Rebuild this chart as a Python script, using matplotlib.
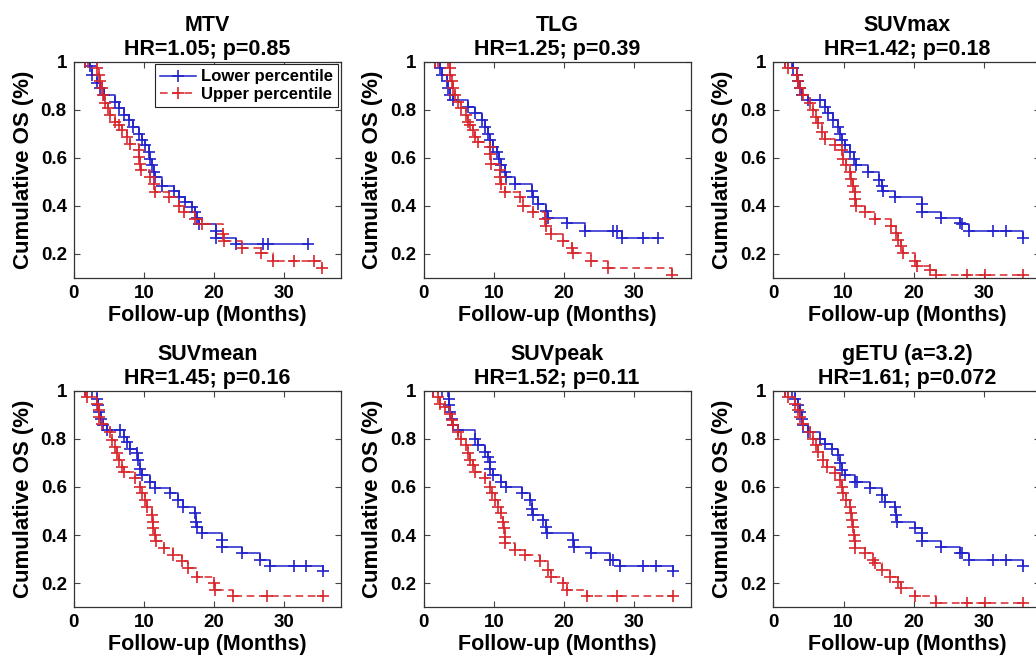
import matplotlib
matplotlib.use('Agg')
import matplotlib.pyplot as plt
from matplotlib.lines import Line2D

plt.rcParams['font.family'] = ['Liberation Sans', 'DejaVu Sans']
plt.rcParams['font.weight'] = 'bold'

# ---- data (months, cumulative OS) ----
titles = ['MTV', 'TLG', 'SUVmax', 'SUVmean', 'SUVpeak', 'gETU (a=3.2)']
hr_values = ['1.05', '1.25', '1.42', '1.45', '1.52', '1.61']
p_values = ['0.85', '0.39', '0.18', '0.16', '0.11', '0.072']
series_names = ['Lower percentile', 'Upper percentile']

mtv_low_t = [1.6, 2.3, 2.6, 3.3, 3.7, 4.25, 5.9, 6.4, 7.1, 7.8, 8.5, 9.25, 9.7, 10.2, 10.7, 10.9, 11.15,
             11.4, 11.6, 12.6, 14.25, 15.0, 15.9, 16.9, 17.3, 17.6, 17.8, 20.2, 20.3, 23.1, 26.9, 27.6, 33.3]
mtv_low_s = [1.0, 0.982, 0.947, 0.912, 0.89, 0.863, 0.835, 0.807, 0.779, 0.758, 0.73, 0.70, 0.674, 0.653,
             0.625, 0.597, 0.569, 0.541, 0.52, 0.485, 0.464, 0.436, 0.415, 0.394, 0.373, 0.352, 0.324,
             0.296, 0.268, 0.242, 0.242, 0.242, 0.242]
mtv_up_t = [1.6, 2.1, 3.3, 3.53, 3.77, 4.0, 4.1, 4.5, 4.95, 5.2, 5.9, 6.4, 6.85, 7.6, 8.05, 9.25, 9.3, 9.5,
            9.55, 10.9, 11.4, 11.6, 13.5, 15.0, 15.7, 17.3, 18.3, 21.2, 21.4, 24.0, 26.6, 28.3, 31.4, 34.2, 35.4]
mtv_up_s = [1.0, 1.0, 0.975, 0.947, 0.92, 0.89, 0.863, 0.828, 0.807, 0.779, 0.75, 0.737, 0.716, 0.688, 0.66,
            0.632, 0.604, 0.576, 0.548, 0.52, 0.49, 0.457, 0.436, 0.40, 0.373, 0.345, 0.324, 0.282, 0.254,
            0.225, 0.204, 0.17, 0.17, 0.17, 0.141]

tlg_low_t = [1.64, 2.35, 2.58, 3.3, 3.53, 3.77, 4.24, 6.37, 7.32, 8.27, 8.74, 9.2, 9.45, 9.93, 10.4, 10.8,
             11.1, 11.6, 11.8, 13.0, 15.4, 15.6, 16.3, 17.5, 17.75, 20.4, 23.0, 27.0, 27.5, 28.2, 31.2, 33.4]
tlg_low_s = [1.0, 0.975, 0.947, 0.92, 0.89, 0.863, 0.842, 0.814, 0.786, 0.758, 0.73, 0.70, 0.674, 0.646,
             0.625, 0.597, 0.569, 0.541, 0.52, 0.49, 0.464, 0.436, 0.408, 0.38, 0.352, 0.33, 0.296, 0.296,
             0.296, 0.268, 0.268, 0.268]
tlg_up_t = [1.64, 2.1, 3.5, 3.77, 3.8, 4.0, 4.24, 4.5, 4.95, 5.4, 6.1, 6.4, 6.6, 7.1, 7.3, 7.8, 9.45, 9.5,
            9.55, 10.9, 10.95, 11.1, 11.6, 13.7, 14.2, 15.6, 17.3, 17.5, 18.2, 19.9, 21.1, 21.3, 23.9, 26.3, 35.3]
tlg_up_s = [1.0, 1.0, 1.0, 0.975, 0.947, 0.92, 0.89, 0.863, 0.835, 0.807, 0.78, 0.75, 0.737, 0.716, 0.688,
            0.667, 0.646, 0.618, 0.576, 0.548, 0.52, 0.49, 0.457, 0.436, 0.40, 0.373, 0.345, 0.317, 0.282,
            0.254, 0.225, 0.204, 0.17, 0.141, 0.113]

suvmax_low_t = [1.64, 2.6, 2.8, 3.3, 3.5, 3.77, 4.0, 4.95, 6.6, 7.3, 7.8, 8.5, 9.2, 9.45, 9.7, 10.2, 10.9,
                11.4, 11.8, 13.5, 15.1, 15.4, 15.6, 17.3, 21.1, 21.15, 23.9, 26.5, 26.8, 27.9, 31.3, 33.1, 35.5]
suvmax_low_s = [1.0, 1.0, 0.975, 0.947, 0.92, 0.89, 0.863, 0.842, 0.842, 0.814, 0.786, 0.758, 0.73, 0.70,
                0.674, 0.653, 0.625, 0.597, 0.569, 0.541, 0.51, 0.485, 0.464, 0.436, 0.408, 0.373, 0.352,
                0.33, 0.324, 0.296, 0.296, 0.296, 0.268]
suvmax_up_t = [1.64, 2.1, 3.3, 3.5, 3.77, 4.24, 5.2, 5.66, 6.1, 6.4, 6.85, 7.3, 8.7, 9.7, 9.9, 10.4, 10.9,
               11.1, 11.35, 11.6, 11.65, 11.8, 13.0, 14.4, 16.8, 17.5, 17.75, 18.2, 18.5, 20.1, 20.4, 22.3,
               23.2, 27.5, 30.1, 35.5]
suvmax_up_s = [1.0, 0.975, 0.947, 0.92, 0.89, 0.863, 0.828, 0.80, 0.772, 0.744, 0.709, 0.68, 0.653, 0.632,
               0.597, 0.569, 0.541, 0.513, 0.485, 0.457, 0.43, 0.40, 0.373, 0.345, 0.317, 0.288, 0.26,
               0.232, 0.204, 0.17, 0.148, 0.134, 0.113, 0.113, 0.113, 0.113]

suvmean_low_t = [1.64, 2.6, 3.3, 3.4, 3.67, 3.86, 4.24, 4.7, 6.6, 7.1, 7.56, 8.0, 9.0, 9.2, 9.45, 9.7, 10.9,
                 11.6, 13.7, 14.9, 15.6, 17.3, 17.35, 17.5, 18.2, 21.1, 21.15, 23.9, 26.5, 27.9, 31.3, 33.1, 35.5]
suvmean_low_s = [1.0, 1.0, 0.968, 0.94, 0.913, 0.885, 0.857, 0.837, 0.837, 0.809, 0.788, 0.76, 0.74, 0.712,
                 0.677, 0.65, 0.622, 0.594, 0.573, 0.546, 0.518, 0.49, 0.456, 0.435, 0.407, 0.38, 0.352,
                 0.324, 0.296, 0.269, 0.269, 0.269, 0.248]
suvmean_up_t = [1.64, 1.87, 3.3, 3.53, 3.67, 4.0, 5.2, 5.4, 5.9, 6.1, 6.4, 6.85, 7.1, 8.7, 9.45, 9.7, 10.2,
                10.5, 11.1, 11.3, 11.35, 11.6, 11.65, 12.8, 14.2, 15.4, 16.3, 17.5, 19.9, 20.1, 22.7, 27.5, 35.5]
suvmean_up_s = [1.0, 0.975, 0.947, 0.92, 0.89, 0.864, 0.83, 0.795, 0.767, 0.74, 0.712, 0.684, 0.663, 0.636,
                0.60, 0.573, 0.546, 0.518, 0.483, 0.456, 0.428, 0.40, 0.373, 0.345, 0.317, 0.29, 0.262,
                0.227, 0.20, 0.172, 0.144, 0.144, 0.144]

suvpeak_low_t = [1.4, 2.6, 3.53, 3.6, 3.67, 3.77, 4.0, 4.24, 4.95, 7.3, 7.8, 8.74, 9.2, 9.45, 9.5, 9.93, 11.1,
                 11.8, 13.96, 15.1, 15.4, 15.6, 17.0, 17.5, 17.55, 21.3, 21.35, 23.9, 26.5, 27.0, 27.9, 31.3,
                 33.1, 35.5]
suvpeak_low_s = [1.0, 1.0, 1.0, 0.968, 0.94, 0.913, 0.885, 0.857, 0.837, 0.80, 0.774, 0.747, 0.726, 0.705,
                 0.677, 0.65, 0.622, 0.60, 0.573, 0.546, 0.51, 0.483, 0.463, 0.435, 0.407, 0.38, 0.352,
                 0.324, 0.296, 0.296, 0.269, 0.269, 0.269, 0.248]
suvpeak_up_t = [1.4, 2.1, 2.35, 3.06, 3.77, 4.0, 4.24, 4.95, 5.4, 6.1, 6.37, 6.6, 7.1, 7.3, 8.74, 9.45, 9.7,
                10.2, 10.6, 11.1, 11.35, 11.4, 11.6, 11.65, 13.0, 14.4, 16.6, 17.75, 18.2, 19.9, 20.4, 23.2,
                27.5, 35.5]
suvpeak_up_s = [1.0, 0.975, 0.947, 0.933, 0.906, 0.878, 0.857, 0.83, 0.80, 0.774, 0.74, 0.712, 0.69, 0.663,
                0.636, 0.60, 0.573, 0.546, 0.518, 0.49, 0.456, 0.428, 0.393, 0.366, 0.338, 0.317, 0.29,
                0.255, 0.227, 0.20, 0.172, 0.144, 0.144, 0.144]

getu_low_t = [1.64, 2.58, 3.06, 3.53, 3.77, 4.0, 4.24, 4.95, 6.6, 7.3, 8.27, 9.2, 9.45, 9.7, 10.2, 11.6, 11.9,
              13.7, 15.4, 15.9, 17.3, 17.5, 17.55, 20.1, 21.1, 21.15, 23.9, 26.5, 26.8, 27.9, 31.3, 33.1, 35.5]
getu_low_s = [1.0, 1.0, 0.968, 0.94, 0.913, 0.885, 0.857, 0.83, 0.80, 0.78, 0.76, 0.732, 0.698, 0.67, 0.65,
              0.622, 0.622, 0.594, 0.567, 0.539, 0.518, 0.483, 0.456, 0.428, 0.407, 0.373, 0.352, 0.324,
              0.324, 0.296, 0.296, 0.296, 0.269]
getu_up_t = [1.64, 2.1, 3.06, 3.53, 3.77, 4.24, 5.2, 5.66, 6.1, 6.37, 7.1, 7.56, 8.74, 9.45, 9.7, 9.93, 10.4,
             10.9, 11.1, 11.15, 11.35, 11.4, 11.6, 11.65, 13.0, 14.2, 14.4, 15.4, 16.6, 17.75, 18.2, 20.1,
             23.2, 27.5, 30.1, 35.5]
getu_up_s = [1.0, 0.975, 0.947, 0.92, 0.89, 0.864, 0.83, 0.80, 0.774, 0.747, 0.712, 0.684, 0.657, 0.63, 0.60,
             0.573, 0.546, 0.518, 0.49, 0.463, 0.435, 0.40, 0.373, 0.345, 0.324, 0.296, 0.283, 0.255, 0.227,
             0.206, 0.179, 0.144, 0.116, 0.116, 0.116, 0.116]

curves = [
    ((mtv_low_t, mtv_low_s), (mtv_up_t, mtv_up_s)),
    ((tlg_low_t, tlg_low_s), (tlg_up_t, tlg_up_s)),
    ((suvmax_low_t, suvmax_low_s), (suvmax_up_t, suvmax_up_s)),
    ((suvmean_low_t, suvmean_low_s), (suvmean_up_t, suvmean_up_s)),
    ((suvpeak_low_t, suvpeak_low_s), (suvpeak_up_t, suvpeak_up_s)),
    ((getu_low_t, getu_low_s), (getu_up_t, getu_up_s)),
]

BLUE = '#2222cc'
RED = '#d8262c'
DASH = (0, (5, 3))

W, H = 1036, 659
fig = plt.figure(figsize=(W / 100, H / 100), dpi=100)

col_left = [73.7, 423.5, 773.4]
row_top = [62.0, 391.0]
ax_w, ax_h = 267.0, 216.0


def km_plot(ax, t, s, color, ls):
    ax.step(t, s, where='post', color=color, linestyle=ls, lw=1.1)
    ax.plot(t, s, linestyle='none', marker='+', ms=9, mew=1.2, color=color)


for i, (low, up) in enumerate(curves):
    r, c = divmod(i, 3)
    ax = fig.add_axes([col_left[c] / W, 1 - (row_top[r] + ax_h) / H, ax_w / W, ax_h / H])
    km_plot(ax, *low, BLUE, '-')
    km_plot(ax, *up, RED, DASH)

    ax.set_xlim(0, 38)
    ax.set_ylim(0.1, 1.0)
    ax.set_xticks([0, 10, 20, 30])
    ax.set_yticks([0.2, 0.4, 0.6, 0.8, 1.0])
    ax.set_yticklabels(['0.2', '0.4', '0.6', '0.8', '1'])
    ax.tick_params(direction='in', top=True, right=True, length=4, width=0.8,
                   labelsize=13.5, pad=5, color='#444444')
    for sp in ax.spines.values():
        sp.set_color('#333333')
        sp.set_linewidth(0.9)

    ax.set_title(f'{titles[i]}\nHR={hr_values[i]}; p={p_values[i]}',
                 fontsize=15.5, fontweight='bold', pad=5, linespacing=1.2)
    ax.set_xlabel('Follow-up (Months)', fontsize=15.5, fontweight='bold', labelpad=2)
    ax.set_ylabel('Cumulative OS (%)', fontsize=16, fontweight='bold', labelpad=5)

    if i == 0:
        handles = [Line2D([], [], color=BLUE, ls='-', lw=1.1, marker='+', ms=9, mew=1.2),
                   Line2D([], [], color=RED, ls=DASH, lw=1.1, marker='+', ms=9, mew=1.2)]
        leg = ax.legend(handles, series_names, loc='upper right', fontsize=12,
                        fancybox=False, framealpha=1, edgecolor='#222222',
                        borderaxespad=0.15, handlelength=2.2, handletextpad=0.3,
                        borderpad=0.3, labelspacing=0.15)
        leg.get_frame().set_linewidth(0.8)

fig.savefig('out.png', dpi=100)
